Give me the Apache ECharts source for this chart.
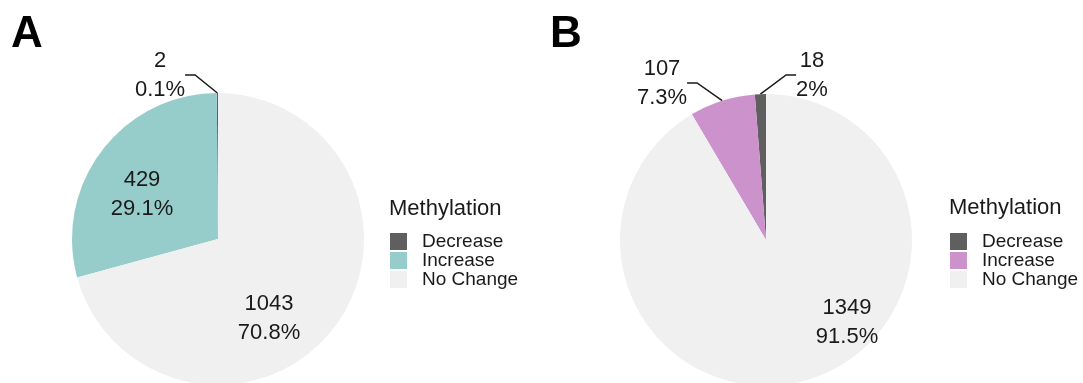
<!DOCTYPE html>
<html>
<head>
    <meta charset="UTF-8">
    <title>Methylation</title>
    <script src="https://cdn.jsdelivr.net/npm/echarts@6/dist/echarts.min.js"></script>
</head>
<body style="margin:0;background:#fff">
<div id="chart" style="width:1083px;height:383px"></div>

<script type="text/javascript">
    // categories and values
    var categories = ['Decrease', 'Increase', 'No Change'];
    var countsA = [2, 429, 1043];
    var pctA = ['0.1%', '29.1%', '70.8%'];
    var countsB = [18, 107, 1349];
    var pctB = ['2%', '7.3%', '91.5%'];

    // colours
    var colorsA = ['#5f5f5f', '#96cdcb', '#f0f0f0'];
    var colorsB = ['#5f5f5f', '#cc92cc', '#f0f0f0'];

    // layout (px)
    var font = 'Liberation Sans, Arial, sans-serif';
    var centerA = [218, 239];
    var centerB = [766, 240];
    var radius = 146;
    var sideA = ['outside', 'inside', 'inside'];
    var sideB = ['outside', 'outside', 'inside'];
    // label block centres, relative to the pie centre
    var offsetA = [[-58, -164], [-76, -45], [51, 79]];
    var offsetB = [[46, -165], [-104, -157], [81, 82]];

    function makeData(counts, colors, side) {
        return categories.map(function (name, i) {
            return {
                name: name,
                value: counts[i],
                itemStyle: {color: colors[i]},
                label: {position: side[i]},
                labelLine: {show: side[i] === 'outside'}
            };
        });
    }

    function placeLabel(center, offsets) {
        return function (params) {
            var o = offsets[params.dataIndex];
            return {
                x: center[0] + o[0],
                y: center[1] + o[1],
                align: 'center',
                verticalAlign: 'middle'
            };
        };
    }

    function pieSeries(center, counts, colors, side, pct, offsets) {
        return {
            type: 'pie',
            center: center,
            radius: radius,
            startAngle: 90,
            clockwise: false,
            avoidLabelOverlap: false,
            emphasis: {scale: false},
            data: makeData(counts, colors, side),
            label: {
                color: '#1a1a1a',
                fontFamily: font,
                fontSize: 22,
                lineHeight: 29,
                formatter: function (p) {
                    return p.value + '\n' + pct[p.dataIndex];
                }
            },
            labelLine: {
                length: 10,
                length2: 10,
                lineStyle: {color: '#1a1a1a', width: 1.5}
            },
            labelLayout: placeLabel(center, offsets)
        };
    }

    function legendFor(left, colors) {
        return {
            left: left,
            top: 232,
            padding: 0,
            orient: 'vertical',
            icon: 'rect',
            itemWidth: 17,
            itemHeight: 17,
            itemGap: 0,
            selectedMode: false,
            data: categories.map(function (name, i) {
                return {name: name, itemStyle: {color: colors[i]}};
            }),
            textStyle: {
                fontFamily: font,
                fontSize: 19,
                lineHeight: 17,
                color: '#1a1a1a',
                padding: [0, 0, 0, 10]
            }
        };
    }

    var panelText = {fontFamily: font, fontSize: 44, fontWeight: 'bold', color: '#000'};
    var legendTitle = {fontFamily: font, fontSize: 22, fontWeight: 'normal', color: '#1a1a1a'};

    var chart = echarts.init(document.getElementById('chart'));
    chart.setOption({
        animation: false,
        backgroundColor: '#fff',
        title: [
            {text: 'A', left: 11, top: 13, textStyle: panelText, padding: 0},
            {text: 'B', left: 550, top: 13, textStyle: panelText, padding: 0},
            {text: 'Methylation', left: 389, top: 198, textStyle: legendTitle, padding: 0},
            {text: 'Methylation', left: 949, top: 197, textStyle: legendTitle, padding: 0}
        ],
        legend: [legendFor(390, colorsA), legendFor(950, colorsB)],
        series: [
            pieSeries(centerA, countsA, colorsA, sideA, pctA, offsetA),
            pieSeries(centerB, countsB, colorsB, sideB, pctB, offsetB)
        ]
    });
</script>
</body>
</html>
